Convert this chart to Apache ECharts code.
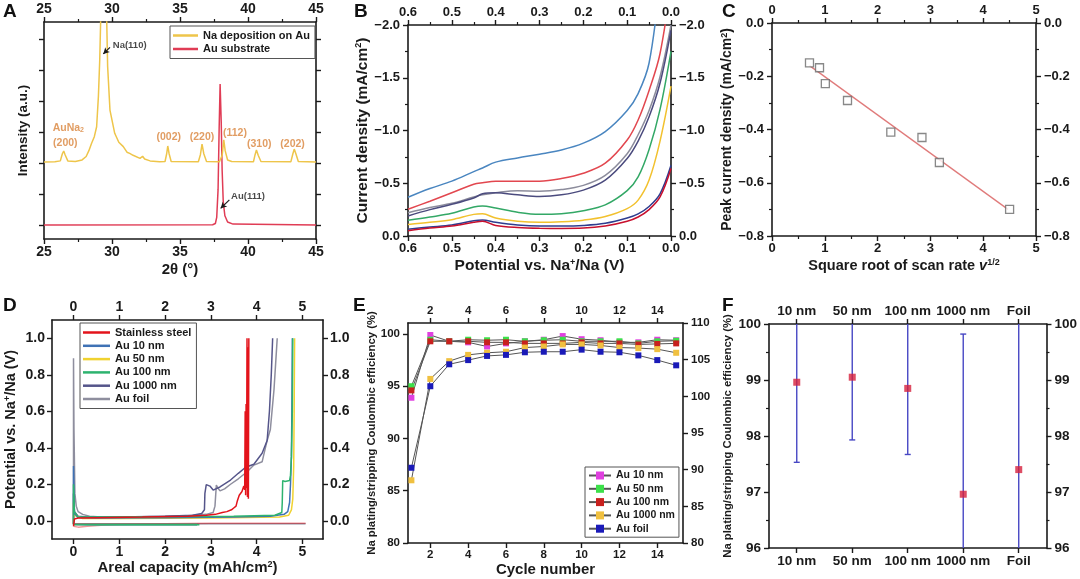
<!DOCTYPE html>
<html><head><meta charset="utf-8">
<script src="https://cdn.jsdelivr.net/npm/echarts@6/dist/echarts.min.js"></script>
<style>html,body{margin:0;padding:0;background:#fff}#c{width:1080px;height:579px}</style>
</head><body><div id="c"></div>
<script>
// ---------------- DATA ----------------
// A: XRD patterns [2theta, intensity (a.u.)]
const aNaOnAu = [[25,2.48],[25.8,2.49],[26.2,2.52],[26.35,2.75],[26.45,2.84],[26.55,2.72],[26.75,2.52],[27.3,2.5],[27.8,2.55],[28.1,2.66],[28.3,2.85],[28.5,3.09],[28.7,3.3],[28.87,3.62],[29.0,4.6],[29.1,5.8],[29.18,7.3],[29.39,40],[29.6,7.3],[29.68,5.56],[29.85,4.16],[30.2,3.41],[30.5,3.12],[30.83,2.98],[31.1,2.8],[31.3,2.76],[31.4,2.79],[31.55,2.7],[32.06,2.6],[32.25,2.67],[32.4,2.58],[32.8,2.52],[33.5,2.49],[33.9,2.5],[34.02,2.75],[34.1,3.0],[34.2,2.75],[34.35,2.5],[36.35,2.49],[36.5,2.72],[36.62,3.06],[36.75,2.75],[36.95,2.5],[37.9,2.49],[38.1,2.7],[38.22,3.2],[38.32,2.85],[38.5,2.55],[38.8,2.5],[40.4,2.49],[40.52,2.72],[40.62,2.87],[40.75,2.7],[40.95,2.5],[43.15,2.49],[43.3,2.75],[43.4,2.9],[43.52,2.75],[43.7,2.5],[45,2.48]];
const aAuSub = [[25,0.45],[37.4,0.46],[37.6,0.5],[37.7,0.7],[37.8,1.6],[37.88,3.6],[37.95,5.0],[38.03,3.8],[38.1,2.2],[38.18,1.2],[38.3,0.75],[38.5,0.55],[38.9,0.48],[45,0.45]];
const aYTicks = [0.45,1.45,2.45,3.45,4.45,5.45,6.45];
const aPeakLabels = [
  {name:'AuNa{s|2}', value:[26.79,3.57], orange:true},
  {name:'(200)', value:[26.57,3.09], orange:true},
  {name:'(002)', value:[34.17,3.30], orange:true},
  {name:'(220)', value:[36.62,3.30], orange:true},
  {name:'(112)', value:[39.04,3.41], orange:true},
  {name:'(310)', value:[40.83,3.06], orange:true},
  {name:'(202)', value:[43.28,3.06], orange:true},
  {name:'Na(110)', value:[31.30,6.26], orange:false},
  {name:'Au(111)', value:[40.00,1.39], orange:false}
];
const aArrows = [[[29.36,5.97],[29.85,6.18]],[[37.99,0.99],[38.63,1.26]]];

// B: LSV curves, potential (V) vs current density (mA/cm2)
const bPotential = [0.6,0.55,0.5,0.45,0.43,0.4,0.35,0.3,0.25,0.2,0.15,0.1,0.075,0.05,0.025,0.0];
const bCurves = [
  {color:'#4a86c0', v:[-0.367,-0.45,-0.52,-0.61,-0.645,-0.70,-0.74,-0.775,-0.815,-0.88,-0.99,-1.19,-1.35,-1.64,-2.4,-3.3]},
  {color:'#e2474f', v:[-0.253,-0.33,-0.41,-0.49,-0.505,-0.52,-0.52,-0.52,-0.545,-0.595,-0.69,-0.91,-1.10,-1.38,-1.73,-2.4]},
  {color:'#8c8c9c', v:[-0.22,-0.27,-0.31,-0.37,-0.39,-0.41,-0.43,-0.425,-0.44,-0.48,-0.575,-0.78,-0.96,-1.19,-1.51,-2.0]},
  {color:'#4b4b7e', v:[-0.19,-0.25,-0.30,-0.36,-0.40,-0.41,-0.39,-0.375,-0.39,-0.435,-0.53,-0.735,-0.90,-1.13,-1.45,-1.95]},
  {color:'#33a866', v:[-0.15,-0.18,-0.215,-0.275,-0.285,-0.265,-0.225,-0.205,-0.212,-0.24,-0.295,-0.43,-0.56,-0.82,-1.2,-1.75]},
  {color:'#f2c12e', v:[-0.11,-0.13,-0.155,-0.205,-0.21,-0.17,-0.14,-0.13,-0.135,-0.15,-0.185,-0.26,-0.34,-0.53,-0.90,-1.42]},
  {color:'#2e3d8f', v:[-0.065,-0.085,-0.105,-0.145,-0.152,-0.13,-0.105,-0.095,-0.095,-0.1,-0.12,-0.17,-0.21,-0.28,-0.40,-0.67]},
  {color:'#c8102e', v:[-0.05,-0.075,-0.095,-0.13,-0.14,-0.10,-0.08,-0.073,-0.072,-0.075,-0.095,-0.14,-0.18,-0.25,-0.37,-0.64]}
];

// C: peak current vs sqrt(scan rate)
const cSqrtRate = [0.71,0.90,1.01,1.43,2.25,2.84,3.17,4.50];
const cPeak = [-0.150,-0.168,-0.228,-0.291,-0.41,-0.43,-0.524,-0.70];
const cFitX = [0.71,4.47];
const cFitY = [-0.160,-0.70];

// D: voltage profiles [capacity, potential]
const dStainlessStrip = [[3.83,1.0],[3.82,0.12],[3.81,0.95],[3.80,0.13],[3.79,1.0],[3.78,0.18],[3.77,0.64],[3.76,0.14],[3.75,0.6],[3.74,0.17],[3.72,0.19],[3.68,0.16],[3.66,0.17],[3.62,0.14],[3.58,0.11],[3.55,0.08],[3.5,0.07],[3.45,0.06],[3.42,0.055],[3.35,0.05],[3.25,0.045],[3.1,0.035],[2.9,0.03],[2.5,0.025],[1.5,0.02],[0.5,0.017],[0.1,0.015],[0.02,0.01],[0,-0.03]];
const dStainlessPlate = [[0,-0.03],[0.02,-0.04],[0.1,-0.035],[0.3,-0.03],[0.6,-0.025],[1.0,-0.02],[2.0,-0.016],[3.0,-0.014],[5.07,-0.014]];
const dAu10 = [[4.78,1.0],[4.77,0.6],[4.76,0.35],[4.74,0.2],[4.72,0.1],[4.68,0.05],[4.6,0.035],[4.3,0.025],[3.5,0.02],[2,0.017],[0.5,0.015],[0.1,0.018],[0.02,0.04],[0,0.3],[0,-0.02],[0.3,-0.022],[2.7,-0.022]];
const dAu50 = [[4.83,1.0],[4.82,0.6],[4.81,0.3],[4.79,0.12],[4.76,0.06],[4.7,0.03],[4.5,0.02],[3,0.015],[1,0.012],[0.2,0.012],[0.02,0.03],[0,0.1],[0,-0.02],[2.7,-0.02]];
const dAu100 = [[4.79,1.0],[4.78,0.6],[4.76,0.35],[4.74,0.25],[4.72,0.22],[4.62,0.215],[4.57,0.22],[4.56,0.1],[4.55,0.045],[4.4,0.03],[3.5,0.025],[2,0.022],[0.5,0.02],[0.1,0.02],[0.02,0.05],[0,0.2],[0,-0.02],[0.5,-0.022],[2.75,-0.022]];
const dAu1000 = [[4.35,1.0],[4.32,0.8],[4.28,0.6],[4.23,0.44],[4.12,0.37],[3.94,0.31],[3.76,0.293],[3.6,0.26],[3.43,0.223],[3.2,0.185],[3.05,0.168],[2.98,0.19],[2.94,0.2],[2.9,0.198],[2.87,0.15],[2.86,0.06],[2.8,0.04],[2.6,0.03],[2,0.025],[1,0.02],[0.3,0.02],[0.1,0.025],[0.02,0.05],[0,0.15],[0,-0.018],[2.7,-0.018]];
const dAuFoil = [[4.45,1.0],[4.42,0.88],[4.38,0.72],[4.3,0.5],[4.23,0.44],[4.12,0.323],[3.94,0.305],[3.8,0.27],[3.6,0.23],[3.43,0.2],[3.3,0.175],[3.2,0.164],[3.15,0.18],[3.12,0.196],[3.1,0.19],[3.09,0.08],[3.05,0.045],[2.9,0.035],[2.5,0.028],[1.5,0.022],[0.6,0.02],[0.35,0.025],[0.2,0.035],[0.1,0.05],[0.06,0.08],[0.03,0.15],[0.01,0.5],[0,0.89],[0,-0.016],[5.07,-0.016]];
const dXTicks = [0,1,2,3,4,5];
const dYTicks = [0,0.2,0.4,0.6,0.8,1.0];

// E: Coulombic efficiency vs cycle
const eCycles = [1,2,3,4,5,6,7,8,9,10,11,12,13,14,15];
const eAu10 = [93.9,99.9,99.3,99.2,98.8,99.1,99.3,99.45,99.8,99.5,99.4,99.2,99.2,99.45,99.4];
const eAu50 = [95.0,99.45,99.3,99.45,99.4,99.45,99.3,99.4,99.45,99.3,99.3,99.3,99.1,99.3,99.35];
const eAu100 = [94.6,99.3,99.3,99.3,99.2,99.2,99.1,99.1,99.1,99.2,99.1,99.1,99.0,99.05,99.1];
const eAu1000 = [86.0,95.7,97.4,98.0,98.2,98.3,98.7,98.8,99.0,99.0,98.9,98.7,98.65,98.55,98.2];
const eAuFoil = [87.2,95.0,97.1,97.5,97.9,98.0,98.25,98.3,98.3,98.5,98.3,98.25,97.95,97.5,97.0];
const eXTicks = [2,4,6,8,10,12,14];
const eYTicks = [80,85,90,95,100];

// F: average CE with error
const fCats = ['10 nm','50 nm','100 nm','1000 nm','Foil'];
const fMean = [98.96,99.05,98.85,96.96,97.40];
const fErr = [1.43,1.12,1.18,2.86,3.0];

// ---------------- BUILD ----------------
const FONT = "'Liberation Sans', Arial, sans-serif";
const INK = '#1a1a1a';
function merge(a,b){const o=Object.assign({},a);for(const k in b){const v=b[k];if(v&&typeof v==='object'&&!Array.isArray(v)&&o[k]&&typeof o[k]==='object'&&!Array.isArray(o[k]))o[k]=merge(o[k],v);else o[k]=v;}return o;}
const fmt1 = v => (v < -1e-9 ? '\u2212' : '') + Math.abs(v).toFixed(1);
const fmt0 = v => String(Math.round(v));

function baseAxis(fs){
  return {
    type:'value', scale:false,
    axisLine:{show:true,onZero:false,lineStyle:{color:INK,width:1.6}},
    axisTick:{show:true,inside:false,length:5,lineStyle:{color:INK,width:1.4}},
    minorTick:{show:false,length:3,lineStyle:{color:INK,width:1.2}},
    splitLine:{show:false},
    axisLabel:{fontFamily:FONT,fontWeight:'bold',fontSize:fs,color:INK,margin:6},
    nameTextStyle:{fontFamily:FONT,fontWeight:'bold',fontSize:15,color:INK},
    nameLocation:'middle'
  };
}
const grids=[],xAxes=[],yAxes=[],series=[],legends=[];
function panel(g,fs,cx,cy,xb,xt,yl,yr){
  const gi=grids.length;grids.push(g);
  const xi=xAxes.length,yi=yAxes.length;
  xAxes.push(merge(merge(baseAxis(fs),cx),merge({gridIndex:gi,position:'bottom'},xb||{})));
  xAxes.push(merge(merge(baseAxis(fs),cx),merge({gridIndex:gi,position:'top'},xt||{})));
  yAxes.push(merge(merge(baseAxis(fs),cy),merge({gridIndex:gi,position:'left'},yl||{})));
  yAxes.push(merge(merge(baseAxis(fs),cy),merge({gridIndex:gi,position:'right'},yr||{})));
  return {xi,yi};
}
const sup = {fontFamily:FONT,fontWeight:'bold',fontSize:9,color:INK,verticalAlign:'top',padding:[0,0,6,0]};
function legendCfg(extra){
  return merge({orient:'vertical',itemGap:3,itemWidth:25,itemHeight:11,borderColor:'#555',borderWidth:1,
    padding:[3,5,3,3],backgroundColor:'#fff',selectedMode:false,
    textStyle:{fontFamily:FONT,fontWeight:'bold',fontSize:11,color:INK}},extra);
}
const lineIcon = 'rect';

// ----- Panel A -----
const A = panel({left:44,top:22,width:272,height:217},14,
  {min:25,max:45,interval:5,minorTick:{show:true,splitNumber:2}},
  {min:0,max:7,axisLabel:{show:false},axisTick:{customValues:aYTicks}},
  {name:'2\u03b8 (\u00b0)',nameGap:23},{}, {name:'Intensity (a.u.)',nameGap:14,nameTextStyle:{fontSize:13.5}},{});
series.push({name:'Na deposition on Au',type:'line',xAxisIndex:A.xi,yAxisIndex:A.yi,data:aNaOnAu,symbol:'none',lineStyle:{color:'#eec54a',width:1.5},itemStyle:{color:'#eec54a'},z:3});
series.push({name:'Au substrate',type:'line',xAxisIndex:A.xi,yAxisIndex:A.yi,data:aAuSub,symbol:'none',lineStyle:{color:'#e03c55',width:1.5},itemStyle:{color:'#e03c55'},z:2});
series.push({name:'A-annot',type:'scatter',xAxisIndex:A.xi,yAxisIndex:A.yi,symbolSize:0,silent:true,
  data:aPeakLabels.map(p=>({name:p.name,value:p.value,label:{color:p.orange?'#d9843c':INK,fontSize:p.orange?10.5:9.5}})),
  label:{show:true,position:[0,0],align:'center',verticalAlign:'middle',fontFamily:FONT,fontWeight:'bold',
    formatter:p=>p.name,rich:{s:{fontFamily:FONT,fontWeight:'bold',fontSize:7,color:'#d9843c',verticalAlign:'bottom',padding:[4,0,0,0]}}},
  markLine:{silent:true,symbol:['arrow','none'],symbolSize:[5,6],animation:false,label:{show:false},
    lineStyle:{color:INK,width:1.2,type:'solid'},emphasis:{disabled:true},
    data:aArrows.map(a=>[{coord:a[0]},{coord:a[1]}])}});
legends.push(legendCfg({left:170,top:26,itemHeight:2.5,itemGap:2.5,padding:[4,5,4,3],
  data:['Na deposition on Au','Au substrate'].map(n=>({name:n,icon:lineIcon}))}));

// ----- Panel B -----
const B = panel({left:408,top:25,width:263,height:211},13,
  {min:0,max:0.6,interval:0.1,inverse:true,minorTick:{show:true,splitNumber:2},axisLabel:{formatter:fmt1}},
  {min:-2,max:0,interval:0.5,inverse:true,minorTick:{show:true,splitNumber:2},axisLabel:{formatter:fmt1,margin:8}},
  {name:'Potential vs. Na{s|+}/Na (V)',nameGap:22,nameTextStyle:{fontSize:15.5,rich:{s:sup}}},{},
  {name:'Current density (mA/cm{s|2})',nameGap:33,nameTextStyle:{fontSize:15.5,rich:{s:sup}}},{});
bCurves.forEach((c,i)=>series.push({name:'B'+i,type:'line',xAxisIndex:B.xi,yAxisIndex:B.yi,
  data:bPotential.map((x,j)=>[x,c.v[j]]),symbol:'none',smooth:0.35,lineStyle:{color:c.color,width:1.5}}));

// ----- Panel C -----
const C = panel({left:772,top:23,width:264,height:213},13,
  {min:0,max:5,interval:1,minorTick:{show:true,splitNumber:2}},
  {min:-0.8,max:0,interval:0.2,minorTick:{show:true,splitNumber:2},axisLabel:{formatter:fmt1,margin:8}},
  {name:'Square root of scan rate {i|v}{s|1/2}',nameGap:22,nameTextStyle:{fontSize:14.5,rich:{s:sup,i:{fontFamily:FONT,fontWeight:'bold',fontStyle:'italic',fontSize:14.5,color:INK}}}},{},
  {name:'Peak current density (mA/cm{s|2})',nameGap:34,nameTextStyle:{fontSize:14,rich:{s:sup}}},{});
series.push({name:'Cfit',type:'line',xAxisIndex:C.xi,yAxisIndex:C.yi,data:cFitX.map((x,i)=>[x,cFitY[i]]),symbol:'none',lineStyle:{color:'#e07b7b',width:1.3}});
series.push({name:'Cpts',type:'scatter',xAxisIndex:C.xi,yAxisIndex:C.yi,data:cSqrtRate.map((x,i)=>[x,cPeak[i]]),symbol:'rect',symbolSize:8,itemStyle:{color:'#ffffff',borderColor:'#6a6a6a',borderWidth:1.3},z:5});

// ----- Panel D -----
const D = panel({left:52,top:320,width:271,height:219},14,
  {min:-0.47,max:5.45,axisLabel:{customValues:dXTicks,formatter:fmt0},axisTick:{customValues:dXTicks}},
  {min:-0.1,max:1.1,axisLabel:{customValues:dYTicks,formatter:fmt1,margin:7},axisTick:{customValues:dYTicks}},
  {name:'Areal capacity (mAh/cm{s|2})',nameGap:19,nameTextStyle:{fontSize:15,rich:{s:sup}}},{},
  {name:'Potential vs. Na{s|+}/Na (V)',nameGap:34,nameTextStyle:{fontSize:14.5,rich:{s:sup}}},{});
series.push({name:'Au foil',type:'line',xAxisIndex:D.xi,yAxisIndex:D.yi,data:dAuFoil,symbol:'none',lineStyle:{color:'#8e8e9e',width:1.5},itemStyle:{color:'#8e8e9e'},z:1});
series.push({name:'Stainless steel',type:'line',xAxisIndex:D.xi,yAxisIndex:D.yi,data:dStainlessPlate,symbol:'none',lineStyle:{color:'#e3131b',width:1.5,opacity:0.45},itemStyle:{color:'#e3131b'},z:1});
const dSeries = [
  ['Au 1000 nm',dAu1000,'#55558a'],['Au 50 nm',dAu50,'#f0d230'],['Au 10 nm',dAu10,'#3f72b5'],['Au 100 nm',dAu100,'#2db36f'],
  ['Stainless steel',dStainlessStrip,'#e3131b']];
dSeries.forEach(s=>series.push({name:s[0],type:'line',xAxisIndex:D.xi,yAxisIndex:D.yi,data:s[1],symbol:'none',lineStyle:{color:s[2],width:1.5},itemStyle:{color:s[2]},z:2}));
legends.push(legendCfg({left:80,top:323,itemWidth:27,itemHeight:2.5,itemGap:2.3,padding:[4,5,4,3],
  data:['Stainless steel','Au 10 nm','Au 50 nm','Au 100 nm','Au 1000 nm','Au foil'].map(n=>({name:n,icon:lineIcon}))}));

// ----- Panel E -----
const E = panel({left:408,top:323,width:275,height:220},11.5,
  {min:0.82,max:15.36,axisLabel:{customValues:eXTicks,formatter:fmt0},axisTick:{customValues:eXTicks}},
  {},
  {name:'Cycle number',nameGap:16,nameTextStyle:{fontSize:15}},{},
  {min:80,max:101.05,axisLabel:{customValues:eYTicks,formatter:fmt0,margin:8},axisTick:{customValues:eYTicks},
   name:'Na plating/stripping Coulombic efficiency (%)',nameGap:29,nameTextStyle:{fontSize:11.3}},
  {min:80,max:110,interval:5,axisLabel:{formatter:fmt0,margin:8}});
const eSeries = [['Au 10 nm',eAu10,'#e040e0'],['Au 50 nm',eAu50,'#3ce04a'],['Au 100 nm',eAu100,'#c8201e'],['Au 1000 nm',eAu1000,'#f0c040'],['Au foil',eAuFoil,'#1a1ab8']];
eSeries.forEach(s=>series.push({name:'E '+s[0],type:'line',xAxisIndex:E.xi,yAxisIndex:E.yi,data:eCycles.map((c,i)=>[c,s[1][i]]),
  symbol:'rect',symbolSize:6,showAllSymbol:true,lineStyle:{color:'#555',width:1},itemStyle:{color:s[2]}}));
legends.push(legendCfg({left:585,top:467,itemWidth:22,itemHeight:10,itemGap:2.3,padding:[3,4,3,3],
  textStyle:{fontSize:10.5},formatter:n=>n.slice(2),data:eSeries.map(s=>'E '+s[0])}));

// ----- Panel F -----
const F = panel({left:769,top:324,width:279,height:224},13.5,
  {type:'category',data:fCats,axisTick:{alignWithLabel:true},axisLabel:{interval:0}},
  {min:96,max:100,interval:1,minorTick:{show:true,splitNumber:2},axisLabel:{formatter:fmt0,margin:8}},
  {},{},
  {name:'Na plating/stripping Coulombic efficiency (%)',nameGap:36,nameTextStyle:{fontSize:11.3}},{});
series.push({name:'Ferr',type:'custom',xAxisIndex:F.xi,yAxisIndex:F.yi,data:fCats.map((c,i)=>[i,fMean[i],fErr[i]]),
  encode:{x:0,y:1},
  renderItem:function(params,api){
    const i=api.value(0),m=api.value(1),e=api.value(2);
    const cs=params.coordSys;const top=cs.y,bot=cs.y+cs.height;
    const p1=api.coord([i,m+e]),p2=api.coord([i,m-e]);
    const yHi=Math.max(top,p1[1]),yLo=Math.min(bot,p2[1]);const x=p1[0],w=3;
    const st={stroke:'#4848c4',lineWidth:1.4};
    const ch=[{type:'line',shape:{x1:x,y1:yHi,x2:x,y2:yLo},style:st}];
    if(p1[1]>=top)ch.push({type:'line',shape:{x1:x-w,y1:p1[1],x2:x+w,y2:p1[1]},style:st});
    if(p2[1]<=bot)ch.push({type:'line',shape:{x1:x-w,y1:p2[1],x2:x+w,y2:p2[1]},style:st});
    return {type:'group',children:ch};
  },z:2});
series.push({name:'Fmean',type:'scatter',xAxisIndex:F.xi,yAxisIndex:F.yi,data:fMean,symbol:'rect',symbolSize:7,itemStyle:{color:'#d6203c'},z:5});

// panel letters
const letters=[['A',3,2],['B',354,2],['C',722,2],['D',3,296],['E',353,296],['F',722,296]];
const graphic = letters.map(l=>({type:'text',left:l[1],top:l[2],style:{text:l[0],fontFamily:FONT,fontWeight:'bold',fontSize:19,fill:'#111'}}));

const chart = echarts.init(document.getElementById('c'),null,{renderer:'canvas'});
chart.setOption({animation:false,backgroundColor:'#fff',textStyle:{fontFamily:FONT},
  grid:grids,xAxis:xAxes,yAxis:yAxes,series:series,legend:legends,graphic:graphic});
</script></body></html>
